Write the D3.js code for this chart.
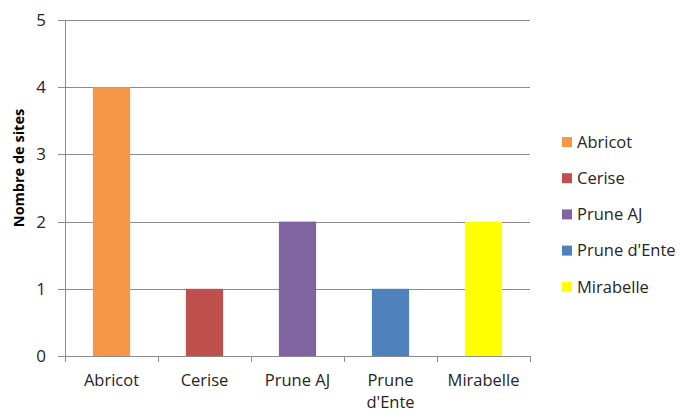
<!DOCTYPE html>
<html><head><meta charset="utf-8">
<script src="https://cdn.jsdelivr.net/npm/d3@7"></script>
<style>body{margin:0;background:#fff}svg{display:block}text{font-family:"Open Sans",sans-serif}</style>
</head><body>
<svg id="c" width="681" height="412"></svg>
<script>
const categories = ["Abricot", "Cerise", "Prune AJ", "Prune d'Ente", "Mirabelle"];
const values = [4, 1, 2, 1, 2];
const colors = ["#F79646", "#C0504D", "#8064A2", "#4F81BD", "#FFFF00"];
const yTicks = [0, 1, 2, 3, 4, 5];
const catLines = [["Abricot"], ["Cerise"], ["Prune AJ"], ["Prune", "d'Ente"], ["Mirabelle"]];

const svg = d3.select("#c");
const pLeft = 65, pRight = 530, pTop = 20, pBottom = 356;
const x = d3.scaleBand().domain(categories).range([pLeft, pRight]).paddingInner(0.6).paddingOuter(0.3);
const y = d3.scaleLinear().domain([0, 5]).range([pBottom, pTop]);
const txt = "#262626", grid = "#8c8c8c";

// gridlines
svg.append("g").selectAll("line").data(yTicks).join("line")
  .attr("x1", pLeft - 7).attr("x2", pRight).attr("y1", d => Math.round(y(d)) + 0.5).attr("y2", d => Math.round(y(d)) + 0.5)
  .attr("stroke", grid).attr("stroke-width", 1);
// y axis line
svg.append("line").attr("x1", pLeft + 0.5).attr("x2", pLeft + 0.5).attr("y1", pTop).attr("y2", pBottom)
  .attr("stroke", grid);
// y tick labels
svg.append("g").selectAll("text").data(yTicks).join("text")
  .attr("x", 46).attr("y", d => y(d)).attr("dy", "0.35em").attr("text-anchor", "end")
  .attr("font-size", 17).attr("fill", txt).text(d => d);

// bars
svg.append("g").selectAll("rect").data(values).join("rect")
  .attr("x", (d, i) => x(categories[i])).attr("width", x.bandwidth())
  .attr("y", d => y(d)).attr("height", d => y(0) - y(d))
  .attr("fill", (d, i) => colors[i]);

// x category ticks
const step = (pRight - pLeft) / categories.length;
const tickXs = d3.range(categories.length + 1).map(i => pLeft + i * step);
svg.append("g").selectAll("line").data(tickXs).join("line")
  .attr("x1", d => Math.round(d) + 0.5).attr("x2", d => Math.round(d) + 0.5)
  .attr("y1", pBottom).attr("y2", pBottom + 6).attr("stroke", grid);

// x labels
const xl = svg.append("g").selectAll("text").data(categories).join("text")
  .attr("x", d => x(d) + x.bandwidth() / 2).attr("y", 386)
  .attr("text-anchor", "middle").attr("font-size", 16.5).attr("fill", txt);
xl.each(function(d, i) {
  const t = d3.select(this);
  catLines[i].forEach((l, j) => t.append("tspan").attr("x", x(d) + x.bandwidth() / 2).attr("dy", j ? 21.5 : 0).text(l));
});

// y axis title
svg.append("text").attr("transform", "translate(24,168) rotate(-90)")
  .attr("text-anchor", "middle").attr("font-size", 14.5).attr("font-weight", "bold").attr("fill", "#000")
  .text("Nombre de sites");

// legend
const lg = svg.append("g").selectAll("g").data(categories).join("g")
  .attr("transform", (d, i) => `translate(562,${142 + i * 36.2})`);
lg.append("rect").attr("x", 0).attr("y", -5).attr("width", 10).attr("height", 10).attr("fill", (d, i) => colors[i]);
lg.append("text").attr("x", 15).attr("y", 0).attr("dy", "0.35em").attr("font-size", 16.5).attr("fill", txt).text(d => d);
</script>
</body></html>
